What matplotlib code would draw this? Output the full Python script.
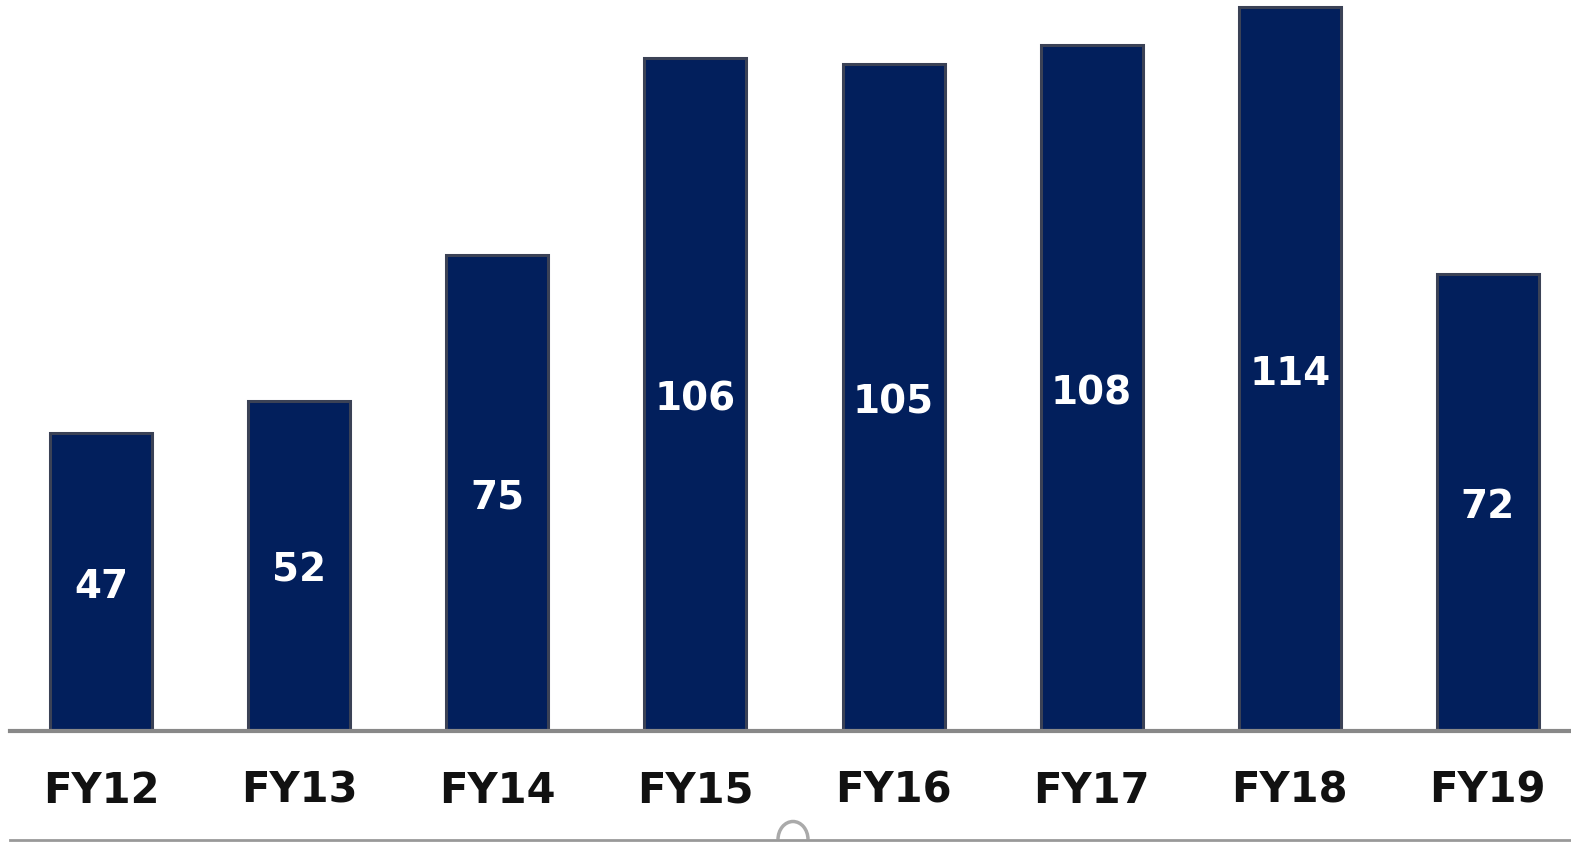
import matplotlib
matplotlib.use("Agg")
import matplotlib.pyplot as plt
from matplotlib.lines import Line2D
from matplotlib.patches import Arc

categories = ["FY12", "FY13", "FY14", "FY15", "FY16", "FY17", "FY18", "FY19"]
values = [47, 52, 75, 106, 105, 108, 114, 72]

fig = plt.figure(figsize=(15.71, 8.43), dpi=100)
ax = fig.add_axes([10/1571, 112/843, 1 - 10/1571, 731/843])
x = range(len(categories))
ax.bar(x, values, width=0.515, color="#021f5c", edgecolor="#3b4256", linewidth=2.2, zorder=2)
ax.set_xlim(-0.46, 7.42)
ax.set_ylim(0, 115.1)
for s in ["top", "right", "left"]:
    ax.spines[s].set_visible(False)
ax.spines["bottom"].set_color("#888888")
ax.spines["bottom"].set_linewidth(3)
ax.spines["bottom"].set_zorder(3)
ax.set_yticks([])
ax.set_xticks(list(x))
ax.set_xticklabels(categories, fontsize=30, fontweight="bold", color="#111111")
ax.tick_params(axis="x", length=0, pad=28)
for i, v in zip(x, values):
    ax.text(i, v / 2 - 0.8, str(v), ha="center", va="center", color="white",
            fontsize=28, fontweight="bold", zorder=3)

fig.add_artist(Line2D([10/1571, 1], [3.5/843, 3.5/843], color="#999999", linewidth=2,
                      transform=fig.transFigure))
fig.add_artist(Arc((793/1571, 3.5/843), 30/1571, 36/843, theta1=0, theta2=180,
                   color="#aaaaaa", linewidth=2.5, transform=fig.transFigure))
fig.savefig("out.png", dpi=100)
